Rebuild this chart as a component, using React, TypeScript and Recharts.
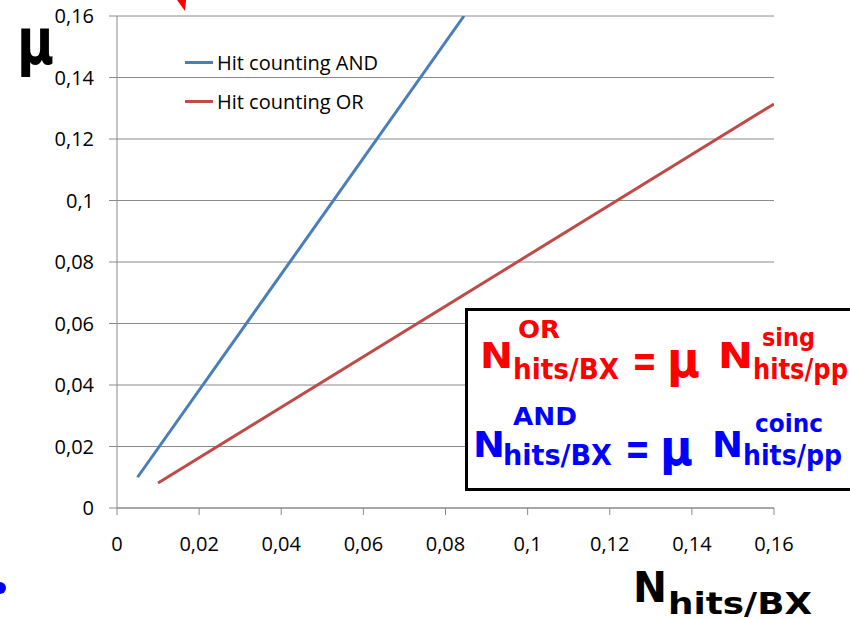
import React from "react";
import { LineChart, Line, XAxis, YAxis, CartesianGrid, Legend } from "recharts";

const xTicks = [0, 0.02, 0.04, 0.06, 0.08, 0.1, 0.12, 0.14, 0.16];
const yTicks = [0, 0.02, 0.04, 0.06, 0.08, 0.1, 0.12, 0.14, 0.16];

const andX = [0.005, 0.0845];
const andY = [0.01, 0.16];
const orX = [0.01, 0.16];
const orY = [0.0081, 0.1314];

const seriesNames = ["Hit counting AND", "Hit counting OR"];
const seriesColors = ["#4A7EBB", "#BE4B48"];

const andData = andX.map((x, i) => ({ x, y: andY[i] }));
const orData = orX.map((x, i) => ({ x, y: orY[i] }));

const fmt = (v: number) => String(v).replace(".", ",");

const tickFont = { fill: "#000", fontSize: 20, fontFamily: "'Open Sans', sans-serif" };
const FF = "'DejaVu Sans', sans-serif";

const renderLegend = () => (
  <div style={{ position: "relative", width: 240, height: 70 }}>
    {seriesNames.map((n, i) => (
      <div
        key={n}
        style={{
          position: "absolute",
          left: 0,
          top: i * 39,
          display: "flex",
          alignItems: "center",
          height: 24,
          fontFamily: "'Open Sans', sans-serif",
          fontSize: 20,
          color: "#000",
          whiteSpace: "nowrap",
        }}
      >
        <span style={{ display: "inline-block", width: 28, height: 3, background: seriesColors[i], marginRight: 4 }} />
        {n}
      </div>
    ))}
  </div>
);

export default function App() {
  return (
    <div style={{ position: "absolute", left: 0, top: 0, width: 850, height: 619, background: "#fff", overflow: "hidden" }}>
      <LineChart width={850} height={619} margin={{ top: 16, right: 76, bottom: 61, left: 0 }}>
        <CartesianGrid vertical={false} stroke="#8a8a8a" />
        <XAxis
          type="number"
          dataKey="x"
          domain={[0, 0.16]}
          ticks={xTicks}
          tickFormatter={fmt}
          allowDataOverflow
          stroke="#8a8a8a"
          tickSize={7}
          tickMargin={22}
          height={50}
          tick={tickFont}
          interval={0}
        />
        <YAxis
          type="number"
          domain={[0, 0.16]}
          ticks={yTicks}
          tickFormatter={fmt}
          allowDataOverflow
          stroke="#8a8a8a"
          width={117}
          tickSize={8}
          tickMargin={15}
          tick={tickFont}
          interval={0}
        />
        <Line data={andData} dataKey="y" name={seriesNames[0]} stroke={seriesColors[0]} strokeWidth={3} dot={false} isAnimationActive={false} />
        <Line data={orData} dataKey="y" name={seriesNames[1]} stroke={seriesColors[1]} strokeWidth={3} dot={false} isAnimationActive={false} />
        <Legend
          layout="horizontal"
          align="center"
          verticalAlign="middle"
          content={renderLegend}
          wrapperStyle={{ left: 185, top: 50, width: 240, height: 70 }}
        />
      </LineChart>
      <svg width={850} height={619} style={{ position: "absolute", left: 0, top: 0, pointerEvents: "none" }}>
        <polygon points="177,0 186,0 185,11" fill="#FF0000" />
        <circle cx={0} cy={588} r={6} fill="#0000FF" />
        <text x={17} y={64} fontSize={64} fontWeight="bold" fontFamily={FF} fill="#000" textLength={37} lengthAdjust="spacingAndGlyphs">μ</text>
        <text x={633} y={602} fontSize={42} fontWeight="bold" fontFamily={FF} fill="#000" textLength={34} lengthAdjust="spacingAndGlyphs">N</text>
        <text x={668} y={614} fontSize={30} fontWeight="bold" fontFamily={FF} fill="#000" textLength={144} lengthAdjust="spacingAndGlyphs">hits/BX</text>
        <rect x={466.5} y={309.5} width={400} height={180} fill="#fff" stroke="#000" strokeWidth={3} />
        <g fontFamily={FF} fontWeight="bold" fill="#FF0000">
          <text x={480} y={368} fontSize={36} textLength={33} lengthAdjust="spacingAndGlyphs">N</text>
          <text x={513} y={379} fontSize={28} textLength={106} lengthAdjust="spacingAndGlyphs">hits/BX</text>
          <text x={518} y={338} fontSize={24} textLength={42} lengthAdjust="spacingAndGlyphs">OR</text>
          <text x={632} y={377} fontSize={46} textLength={25} lengthAdjust="spacingAndGlyphs">=</text>
          <text x={667} y={377} fontSize={50} textLength={33} lengthAdjust="spacingAndGlyphs">μ</text>
          <text x={718} y={368} fontSize={36} textLength={35} lengthAdjust="spacingAndGlyphs">N</text>
          <text x={753} y={379} fontSize={28} textLength={95} lengthAdjust="spacingAndGlyphs">hits/pp</text>
          <text x={762} y={346} fontSize={24} textLength={53} lengthAdjust="spacingAndGlyphs">sing</text>
        </g>
        <g fontFamily={FF} fontWeight="bold" fill="#0000FF">
          <text x={513} y={425} fontSize={24} textLength={64} lengthAdjust="spacingAndGlyphs">AND</text>
          <text x={473} y={457} fontSize={36} textLength={32} lengthAdjust="spacingAndGlyphs">N</text>
          <text x={503} y={465} fontSize={28} textLength={109} lengthAdjust="spacingAndGlyphs">hits/BX</text>
          <text x={625} y={465} fontSize={46} textLength={25} lengthAdjust="spacingAndGlyphs">=</text>
          <text x={660} y={465} fontSize={50} textLength={33} lengthAdjust="spacingAndGlyphs">μ</text>
          <text x={712} y={457} fontSize={36} textLength={31} lengthAdjust="spacingAndGlyphs">N</text>
          <text x={743} y={465} fontSize={28} textLength={99} lengthAdjust="spacingAndGlyphs">hits/pp</text>
          <text x={755} y={432} fontSize={24} textLength={68} lengthAdjust="spacingAndGlyphs">coinc</text>
        </g>
      </svg>
    </div>
  );
}
